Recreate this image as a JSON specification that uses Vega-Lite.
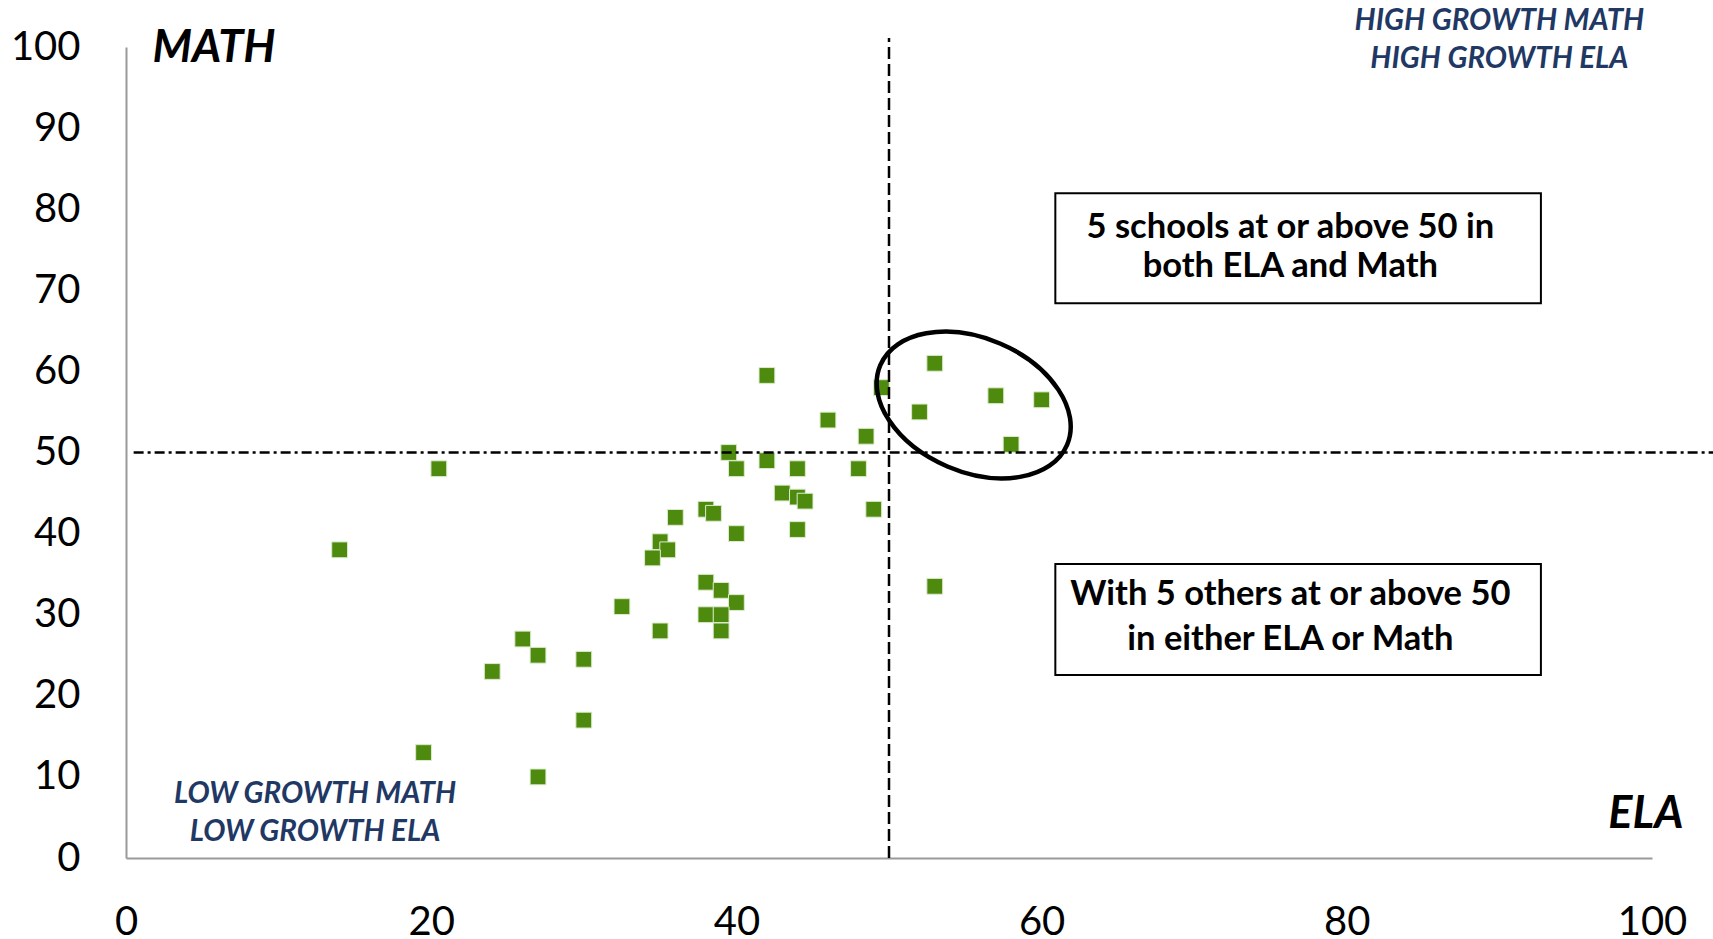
{
  "$schema": "https://vega.github.io/schema/vega-lite/v6.json",
  "width": 1526,
  "height": 811,
  "autosize": {"type": "none"},
  "padding": {"left": 126, "top": 47, "right": 61, "bottom": 81},
  "background": "white",
  "config": {"view": {"stroke": null}, "font": "Lato"},
  "layer": [
    {
      "data": {
        "values": [
          {"ela": 14, "math": 38}, {"ela": 20.5, "math": 48}, {"ela": 19.5, "math": 13},
          {"ela": 27, "math": 10}, {"ela": 24, "math": 23}, {"ela": 26, "math": 27},
          {"ela": 27, "math": 25}, {"ela": 30, "math": 24.5}, {"ela": 30, "math": 17},
          {"ela": 32.5, "math": 31}, {"ela": 35, "math": 28}, {"ela": 35, "math": 39},
          {"ela": 35.5, "math": 38}, {"ela": 34.5, "math": 37}, {"ela": 36, "math": 42},
          {"ela": 38, "math": 43}, {"ela": 38.5, "math": 42.5}, {"ela": 40, "math": 40},
          {"ela": 39.5, "math": 50}, {"ela": 40, "math": 48}, {"ela": 38, "math": 34},
          {"ela": 39, "math": 33}, {"ela": 40, "math": 31.5}, {"ela": 38, "math": 30},
          {"ela": 39, "math": 30}, {"ela": 39, "math": 28}, {"ela": 42, "math": 59.5},
          {"ela": 46, "math": 54}, {"ela": 48.5, "math": 52}, {"ela": 49.5, "math": 58},
          {"ela": 53, "math": 61}, {"ela": 52, "math": 55}, {"ela": 57, "math": 57},
          {"ela": 60, "math": 56.5}, {"ela": 58, "math": 51}, {"ela": 53, "math": 33.5},
          {"ela": 42, "math": 49}, {"ela": 44, "math": 48}, {"ela": 48, "math": 48},
          {"ela": 43, "math": 45}, {"ela": 44, "math": 44.5}, {"ela": 44.5, "math": 44},
          {"ela": 49, "math": 43}, {"ela": 44, "math": 40.5}
        ]
      },
      "mark": {"type": "square", "filled": true, "fill": "#4e8a0e", "stroke": "#dcebcd", "strokeWidth": 1, "opacity": 1, "size": 250},
      "encoding": {
        "x": {
          "field": "ela", "type": "quantitative",
          "scale": {"domain": [0, 100], "nice": false, "zero": false},
          "axis": {
            "title": null, "values": [0, 20, 40, 60, 80, 100], "grid": false, "ticks": false,
            "domainColor": "#9a9a9a", "domainWidth": 2,
            "labelFontSize": 40, "labelColor": "black", "labelPadding": 44, "labelFont": "Lato",
            "labelFlush": false, "labelOverlap": false
          }
        },
        "y": {
          "field": "math", "type": "quantitative",
          "scale": {"domain": [0, 100], "nice": false, "zero": false},
          "axis": {
            "title": null, "values": [0, 10, 20, 30, 40, 50, 60, 70, 80, 90, 100], "grid": false, "ticks": false,
            "domainColor": "#9a9a9a", "domainWidth": 2,
            "labelFontSize": 40, "labelColor": "black", "labelPadding": 46, "labelFont": "Lato",
            "labelFlush": false, "labelOverlap": false
          }
        }
      }
    },
    {
      "data": {"values": [{"x": 50, "y": 0, "y2": 101.1}]},
      "mark": {"type": "rule", "color": "black", "strokeWidth": 2.5, "strokeDash": [12, 5]},
      "encoding": {
        "x": {"field": "x", "type": "quantitative"},
        "y": {"field": "y", "type": "quantitative"},
        "y2": {"field": "y2"}
      }
    },
    {
      "data": {"values": [{"x": 0.5, "x2": 104, "y": 50}]},
      "mark": {"type": "rule", "color": "black", "strokeWidth": 2.5, "strokeDash": [10, 4, 3, 4]},
      "encoding": {
        "x": {"field": "x", "type": "quantitative"},
        "x2": {"field": "x2"},
        "y": {"field": "y", "type": "quantitative"}
      }
    },
    {
      "data": {"values": [{"x": 55.55, "y": 55.86}]},
      "mark": {
        "type": "point", "filled": false, "stroke": "black", "strokeWidth": 4.5, "opacity": 1, "size": 41209,
        "shape": "M0.920,0.392 C0.777,0.727 0.249,0.823 -0.259,0.606 C-0.767,0.389 -1.063,-0.057 -0.920,-0.392 C-0.777,-0.727 -0.249,-0.823 0.259,-0.606 C0.767,-0.389 1.063,0.057 0.920,0.392 Z"
      },
      "encoding": {
        "x": {"field": "x", "type": "quantitative"},
        "y": {"field": "y", "type": "quantitative"}
      }
    },
    {
      "data": {
        "values": [
          {"x": 60.9, "x2": 92.72, "y": 81.96, "y2": 68.4},
          {"x": 60.9, "x2": 92.72, "y": 36.25, "y2": 22.56}
        ]
      },
      "mark": {"type": "rect", "fill": "white", "stroke": "black", "strokeWidth": 2},
      "encoding": {
        "x": {"field": "x", "type": "quantitative"},
        "x2": {"field": "x2"},
        "y": {"field": "y", "type": "quantitative"},
        "y2": {"field": "y2"}
      }
    },
    {
      "data": {
        "values": [
          {"x": 76.3, "y": 76.41, "label": "5 schools at or above 50 in"},
          {"x": 76.3, "y": 71.6, "label": "both ELA and Math"},
          {"x": 76.3, "y": 31.2, "label": "With 5 others at or above 50"},
          {"x": 76.3, "y": 25.65, "label": "in either ELA or Math"}
        ]
      },
      "mark": {"type": "text", "font": "Lato", "fontSize": 34.5, "fontWeight": "bold", "color": "black", "align": "center", "baseline": "alphabetic"},
      "encoding": {
        "x": {"field": "x", "type": "quantitative"},
        "y": {"field": "y", "type": "quantitative"},
        "text": {"field": "label"}
      }
    },
    {
      "data": {
        "values": [
          {"x": 90.0, "y": 102.1, "label": "HIGH GROWTH MATH"},
          {"x": 90.0, "y": 97.37, "label": "HIGH GROWTH ELA"},
          {"x": 12.39, "y": 6.74, "label": "LOW GROWTH MATH"},
          {"x": 12.39, "y": 2.13, "label": "LOW GROWTH ELA"}
        ]
      },
      "mark": {"type": "text", "font": "Lato", "fontSize": 29.5, "fontWeight": "bold", "fontStyle": "italic", "color": "#1f3864", "align": "center", "baseline": "alphabetic"},
      "encoding": {
        "x": {"field": "x", "type": "quantitative"},
        "y": {"field": "y", "type": "quantitative"},
        "text": {"field": "label"}
      }
    },
    {
      "data": {
        "values": [
          {"x": 5.77, "y": 98.15, "label": "MATH"},
          {"x": 99.6, "y": 3.66, "label": "ELA"}
        ]
      },
      "mark": {"type": "text", "font": "Lato", "fontSize": 45, "fontWeight": "bold", "fontStyle": "italic", "color": "black", "align": "center", "baseline": "alphabetic"},
      "encoding": {
        "x": {"field": "x", "type": "quantitative"},
        "y": {"field": "y", "type": "quantitative"},
        "text": {"field": "label"}
      }
    }
  ]
}
